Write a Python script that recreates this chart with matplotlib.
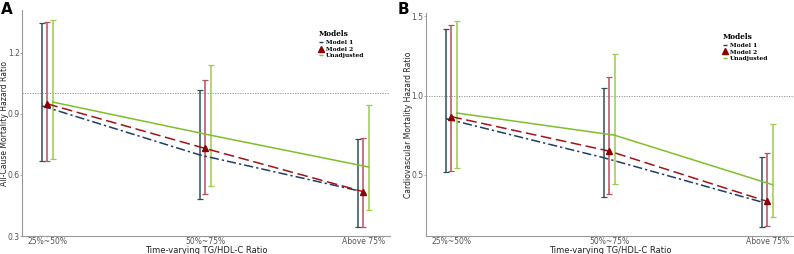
import matplotlib
matplotlib.use("Agg")
import matplotlib.pyplot as plt
import numpy as np
from matplotlib.lines import Line2D

categories = ["25%~50%", "50%~75%", "Above 75%"]
models = ["Model 1", "Model 2", "Unadjusted"]

# Panel A: All-cause mortality
a_est = {"Model 1": [0.939, 0.698, 0.523],
         "Model 2": [0.949, 0.730, 0.518],
         "Unadjusted": [0.958, 0.795, 0.639]}
a_low = {"Model 1": [0.667, 0.484, 0.346],
         "Model 2": [0.670, 0.504, 0.346],
         "Unadjusted": [0.680, 0.548, 0.430]}
a_high = {"Model 1": [1.344, 1.019, 0.776],
          "Model 2": [1.351, 1.064, 0.781],
          "Unadjusted": [1.361, 1.141, 0.942]}

# Panel B: Cardiovascular mortality
b_est = {"Model 1": [0.854, 0.608, 0.329],
         "Model 2": [0.867, 0.650, 0.333],
         "Unadjusted": [0.890, 0.750, 0.438]}
b_low = {"Model 1": [0.519, 0.363, 0.173],
         "Model 2": [0.525, 0.381, 0.175],
         "Unadjusted": [0.544, 0.444, 0.235]}
b_high = {"Model 1": [1.417, 1.048, 0.613],
          "Model 2": [1.446, 1.115, 0.635],
          "Unadjusted": [1.471, 1.260, 0.819]}

a_ticks = [0.3, 0.6, 0.9, 1.2]
b_ticks = [0.5, 1.0, 1.5]

line_colors = {"Model 1": "#1f3d66", "Model 2": "#a01418", "Unadjusted": "#7fbf2a"}
err_colors = {"Model 1": "#2f4f5c", "Model 2": "#b8505c", "Unadjusted": "#9ccc4a"}
styles = {"Model 1": (0, (6, 2, 1.5, 2)), "Model 2": (0, (7, 3)), "Unadjusted": "-"}
dodge = {"Model 1": -0.034, "Model 2": 0.0, "Unadjusted": 0.034}

fig = plt.figure(figsize=(7.94, 2.54), dpi=100)
W, H = 794, 254
BOTTOM = 236

def make_ax(left, right, top, bottom):
    return fig.add_axes([left / W, 1 - bottom / H, (right - left) / W, (bottom - top) / H])

axA = make_ax(22, 390, 10, BOTTOM)
axB = make_ax(426, 794, 13, BOTTOM)

def draw(ax, est, low, high, ylim, ticks, ylabel, left_px, ylab_px, top_px):
    x = np.arange(len(categories))
    for m in models:
        xs = x + dodge[m]
        e = np.array(est[m])
        ax.errorbar(xs, e,
                    yerr=[e - np.array(low[m]), np.array(high[m]) - e],
                    fmt="none", ecolor=err_colors[m], elinewidth=1.1, capsize=2.3, capthick=0.9, zorder=2)
        ax.plot(xs, e, color=line_colors[m], linestyle=styles[m], lw=1.1, zorder=3)
        if m == "Model 2":
            ax.plot(xs, e, linestyle="none", marker="^", ms=4.2, color="#8b0000", zorder=4)
    ax.axhline(1.0, color="#888888", lw=0.6, ls=(0, (1.5, 1.5)), zorder=1)
    ax.set_xlim(-0.16, 2.17)
    ax.set_ylim(*ylim)
    ax.set_xticks(x)
    ax.set_xticklabels(categories, fontsize=5.5, color="#555555")
    ax.set_yticks(ticks)
    ax.set_yticklabels([f"{t:.1f}" for t in ticks], fontsize=5.5, color="#555555")
    ax.tick_params(axis="x", length=1, width=0.5, color="#888888", pad=0)
    ax.tick_params(axis="y", length=1.2, width=0.5, color="#888888", pad=0.5)
    ax.set_xlabel("Time-varying TG/HDL-C Ratio", fontsize=6, color="#222222")
    ax.xaxis.set_label_coords(0.5, -(250.3 - BOTTOM) / (BOTTOM - top_px))
    ax.xaxis.label.set_va("center")
    ax.set_ylabel(ylabel, fontsize=5.5, color="#222222")
    ax.yaxis.set_label_coords(-(left_px - ylab_px) / 368, 0.5)
    ax.yaxis.label.set_va("center")
    for s in ["top", "right"]:
        ax.spines[s].set_visible(False)
    for s in ["left", "bottom"]:
        ax.spines[s].set_color("#999999")
        ax.spines[s].set_linewidth(0.8)
    handles = [Line2D([0], [0], color=line_colors["Model 1"], marker="_", ls="none", ms=3),
               Line2D([0], [0], color="#8b0000", marker="^", ls="none", ms=4),
               Line2D([0], [0], color=line_colors["Unadjusted"], marker="_", ls="none", ms=3)]
    leg = ax.legend(handles, models, title="Models", loc="upper left", bbox_to_anchor=(0.80, 0.92),
                    frameon=False, prop={"family": "DejaVu Serif", "weight": "bold", "size": 4.3},
                    handlelength=0.8, handletextpad=0.4, labelspacing=0.25, borderaxespad=0)
    leg.get_title().set_fontfamily("DejaVu Serif")
    leg.get_title().set_fontweight("bold")
    leg.get_title().set_fontsize(5.3)
    leg._legend_box.align = "left"

draw(axA, a_est, a_low, a_high, (0.3, 1.41), a_ticks, "All-Cause Mortality Hazard Ratio", 22, 4.5, 10)
draw(axB, b_est, b_low, b_high, (0.115, 1.52), b_ticks, "Cardiovascular Mortality Hazard Ratio", 426, 408.5, 13)

fig.text(1 / W, 1 - 9 / H, "A", fontsize=11, fontweight="bold", va="center", ha="left")
fig.text(398 / W, 1 - 9 / H, "B", fontsize=11, fontweight="bold", va="center", ha="left")

fig.savefig("out.png", dpi=100)
